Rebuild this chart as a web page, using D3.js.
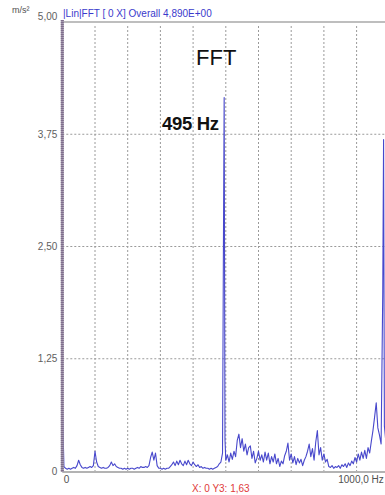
<!DOCTYPE html>
<html>
<head>
<meta charset="utf-8">
<script src="https://cdn.jsdelivr.net/npm/d3@7/dist/d3.min.js"></script>
<style>
  html, body { margin: 0; padding: 0; background: #fff; overflow: hidden; }
  svg { display: block; font-family: "Liberation Sans", Arial, sans-serif; }
</style>
</head>
<body>
<svg id="chart" width="385" height="495"></svg>
<script>
// Spectrum lines: frequency (Hz) and amplitude (m/s²)
const freqs = [
  0, 5, 10, 15, 20, 25, 30, 35, 40, 45, 50, 55, 60, 65, 70, 75, 80, 85, 90, 95,
  100, 105, 110, 115, 120, 125, 130, 135, 140, 145, 150, 155, 160, 165, 170, 175, 180, 185, 190, 195,
  200, 205, 210, 215, 220, 225, 230, 235, 240, 245, 250, 255, 260, 265, 270, 275, 280, 285, 290, 295,
  300, 305, 310, 315, 320, 325, 330, 335, 340, 345, 350, 355, 360, 365, 370, 375, 380, 385, 390, 395,
  400, 405, 410, 415, 420, 425, 430, 435, 440, 445, 450, 455, 460, 465, 470, 475, 480, 485, 490, 492.5,
  495, 497.5, 500, 505, 510, 515, 520, 525, 530, 535, 540, 545, 550, 555, 560, 565, 570, 575, 580, 585,
  590, 595, 600, 605, 610, 615, 620, 625, 630, 635, 640, 645, 650, 655, 660, 665, 670, 675, 680, 685,
  690, 695, 700, 705, 710, 715, 720, 725, 730, 735, 740, 745, 750, 755, 760, 765, 770, 775, 780, 785,
  790, 795, 800, 805, 810, 815, 820, 825, 830, 835, 840, 845, 850, 855, 860, 865, 870, 875, 880, 885,
  890, 895, 900, 905, 910, 915, 920, 925, 930, 935, 940, 945, 950, 955, 960, 965, 970, 975, 980, 982.5,
  985, 990, 995, 1000
];
const amps = [
  0.80, 0.05, 0.03, 0.02, 0.03, 0.02, 0.03, 0.04, 0.03, 0.06, 0.12, 0.07, 0.04, 0.03, 0.04, 0.03, 0.04, 0.05, 0.04, 0.06,
  0.22, 0.10, 0.05, 0.04, 0.03, 0.04, 0.03, 0.03, 0.04, 0.06, 0.10, 0.06, 0.08, 0.05, 0.04, 0.03, 0.03, 0.02, 0.03, 0.02,
  0.03, 0.02, 0.03, 0.03, 0.02, 0.03, 0.04, 0.03, 0.05, 0.04, 0.04, 0.05, 0.04, 0.06, 0.15, 0.21, 0.12, 0.20, 0.06, 0.03,
  0.03, 0.02, 0.03, 0.02, 0.03, 0.03, 0.05, 0.07, 0.10, 0.06, 0.11, 0.07, 0.12, 0.08, 0.06, 0.11, 0.07, 0.12, 0.08, 0.06,
  0.10, 0.07, 0.05, 0.07, 0.04, 0.05, 0.03, 0.04, 0.03, 0.03, 0.02, 0.03, 0.02, 0.03, 0.04, 0.05, 0.08, 0.10, 0.20, 2.30,
  4.16, 0.35, 0.12, 0.18, 0.10, 0.20, 0.13, 0.22, 0.16, 0.34, 0.41, 0.26, 0.36, 0.22, 0.30, 0.18, 0.26, 0.28, 0.14, 0.22,
  0.09, 0.14, 0.22, 0.12, 0.18, 0.10, 0.21, 0.12, 0.20, 0.08, 0.16, 0.10, 0.19, 0.08, 0.14, 0.05, 0.11, 0.08, 0.17, 0.22,
  0.31, 0.12, 0.19, 0.09, 0.16, 0.07, 0.14, 0.09, 0.13, 0.06, 0.12, 0.16, 0.22, 0.30, 0.16, 0.25, 0.12, 0.32, 0.45, 0.18,
  0.26, 0.12, 0.19, 0.10, 0.13, 0.05, 0.04, 0.06, 0.03, 0.05, 0.04, 0.06, 0.03, 0.07, 0.05, 0.08, 0.04, 0.09, 0.06, 0.11,
  0.08, 0.15, 0.10, 0.19, 0.12, 0.21, 0.14, 0.23, 0.14, 0.26, 0.20, 0.33, 0.45, 0.60, 0.76, 0.48, 0.40, 0.30, 2.00, 3.69,
  0.50, 0.30, 0.25, 0.20
];
const yTicks = [0, 1.25, 2.5, 3.75, 5];
const xGrid = [100, 200, 300, 400, 500, 600, 700, 800, 900, 1000];
const xTicks = [0, 1000];

const svg = d3.select("#chart");

const x = d3.scaleLinear().domain([0, 1000]).range([62.3, 389.3]);
const y = d3.scaleLinear().domain([0, 5]).range([471, 22]);

const comma = v => v === 0 ? "0" : d3.format(".2f")(v).replace(".", ",");

// Dotted grid
svg.append("g")
  .selectAll("line.h")
  .data(yTicks.filter(d => d > 0 && d < 5))
  .join("line")
  .attr("x1", x(0)).attr("x2", 390)
  .attr("y1", d => y(d)).attr("y2", d => y(d))
  .attr("stroke", "#9a9a9a").attr("stroke-width", 1)
  .attr("stroke-dasharray", "2,2");

svg.append("g")
  .selectAll("line.v")
  .data(xGrid)
  .join("line")
  .attr("x1", d => x(d)).attr("x2", d => x(d))
  .attr("y1", y(5) + 4).attr("y2", y(0))
  .attr("stroke", "#9a9a9a").attr("stroke-width", 1)
  .attr("stroke-dasharray", "2,2");

// Frame: top border and baseline
svg.append("line")
  .attr("x1", x(0)).attr("x2", 390)
  .attr("y1", y(5)).attr("y2", y(5))
  .attr("stroke", "#a8a8a8").attr("stroke-width", 1.5);
svg.append("line")
  .attr("x1", x(0)).attr("x2", 390)
  .attr("y1", y(0) + 1).attr("y2", y(0) + 1)
  .attr("stroke", "#9a9a9a").attr("stroke-width", 1.5);

// Spectrum trace
const pts = freqs.map((f, i) => [f, amps[i]]);
svg.append("path")
  .datum(pts)
  .attr("fill", "none")
  .attr("stroke", "#4848cc")
  .attr("stroke-width", 1.1)
  .attr("stroke-linejoin", "round")
  .attr("d", d3.line().x(d => x(d[0])).y(d => y(d[1])));

// Left axis bar
svg.append("line")
  .attr("x1", x(0)).attr("x2", x(0))
  .attr("y1", y(5) - 2).attr("y2", y(0) + 1)
  .attr("stroke", "#a396ac").attr("stroke-width", 3);
svg.append("line")
  .attr("x1", x(0)).attr("x2", x(0))
  .attr("y1", y(5) - 2).attr("y2", y(0) + 1)
  .attr("stroke", "#7e6e8c").attr("stroke-width", 3)
  .attr("stroke-dasharray", "1,1");

// Y axis labels
const yAxis = svg.append("g")
  .attr("transform", `translate(${x(0)},0)`)
  .call(d3.axisLeft(y).tickValues(yTicks).tickFormat(comma).tickSize(0).tickPadding(5));
yAxis.select(".domain").remove();
yAxis.selectAll("text")
  .attr("fill", "#606060").attr("font-size", 10)
  .attr("font-family", "Liberation Sans, Arial, sans-serif");
yAxis.selectAll(".tick").filter(d => d === 5).select("text").attr("dy", "-0.28em");

// X axis labels
const xAxis = svg.append("g")
  .attr("transform", `translate(0,${y(0)})`)
  .call(d3.axisBottom(x).tickValues(xTicks)
    .tickFormat(d => d === 0 ? "0" : d3.format(".1f")(d).replace(".", ",") + " Hz")
    .tickSize(0).tickPadding(5));
xAxis.select(".domain").remove();
xAxis.selectAll("text")
  .attr("fill", "#505050").attr("font-size", 10)
  .attr("font-family", "Liberation Sans, Arial, sans-serif")
  .attr("text-anchor", d => d === 0 ? "start" : "end")
  .attr("dx", d => d === 0 ? 1 : -6);

// Unit
svg.append("text")
  .attr("x", 12).attr("y", 13)
  .attr("font-size", 9).attr("fill", "#505050")
  .text("m/s²");

// Header
svg.append("text")
  .attr("x", 63).attr("y", 17)
  .attr("font-size", 10).attr("fill", "#3a3acc")
  .text("|Lin|FFT [ 0 X] Overall 4,890E+00");

// Annotations
svg.append("text")
  .attr("x", 196).attr("y", 65)
  .attr("font-size", 22).attr("fill", "#111")
  .text("FFT");
svg.append("text")
  .attr("x", 162).attr("y", 130)
  .attr("font-size", 18.5).attr("font-weight", "bold").attr("fill", "#111")
  .attr("letter-spacing", -0.3)
  .text("495 Hz");

// Cursor readout
svg.append("text")
  .attr("x", 192).attr("y", 492)
  .attr("font-size", 10).attr("fill", "#e03a3a")
  .text("X: 0 Y3: 1,63");
</script>
</body>
</html>
